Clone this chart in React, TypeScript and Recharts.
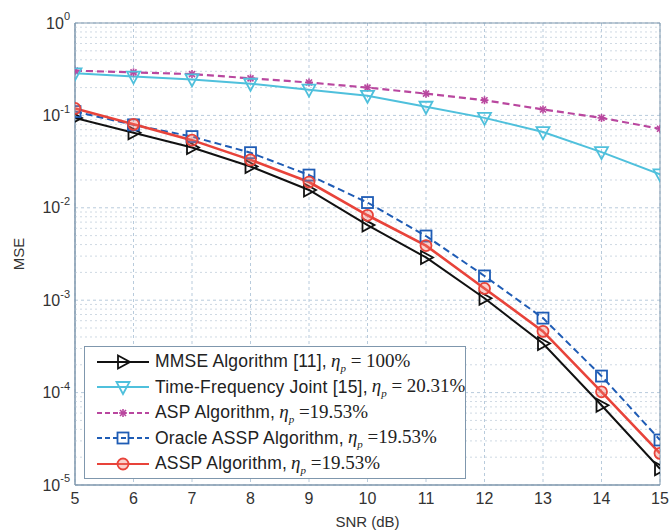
import React from "react";
import {
  CartesianGrid,
  Line,
  LineChart,
  ReferenceArea,
  ReferenceLine,
  XAxis,
  YAxis,
} from "recharts";

const snr = [5, 6, 7, 8, 9, 10, 11, 12, 13, 14, 15];
const mmse = [0.094, 0.065, 0.045, 0.028, 0.0156, 0.0065, 0.0029, 0.00105, 3.4e-4, 7.3e-5, 1.5e-5];
const tfJoint = [0.285, 0.263, 0.245, 0.22, 0.19, 0.163, 0.124, 0.094, 0.066, 0.04, 0.023];
const asp = [0.305, 0.292, 0.28, 0.252, 0.227, 0.2, 0.172, 0.146, 0.116, 0.094, 0.0716];
const oracle = [0.11, 0.079, 0.059, 0.0395, 0.0226, 0.0114, 0.00495, 0.00183, 6.4e-4, 1.51e-4, 3.07e-5];
const assp = [0.119, 0.08, 0.054, 0.033, 0.019, 0.0083, 0.0039, 0.00134, 4.6e-4, 1.02e-4, 2.2e-5];

const yTicks = [1e-5, 1e-4, 1e-3, 1e-2, 1e-1, 1];
const yMinor = yTicks.slice(0, -1).flatMap((d) => [2, 3, 4, 5, 6, 7, 8, 9].map((m) => d * m));

const C_MMSE = "#111111";
const C_TF = "#4fc0dc";
const C_ASP = "#b9479f";
const C_ORACLE = "#1f5cb5";
const C_ASSP = "#e8433a";
const AXIS = "#7f97ad";

type Kind = "tri-right" | "tri-down" | "star" | "square" | "circle";

function Marker({ kind, cx, cy, color }: { kind: Kind; cx: number; cy: number; color: string }) {
  const sw = 1.8;
  if (kind === "tri-right")
    return (
      <polygon
        points={`${cx - 5},${cy - 6.5} ${cx - 5},${cy + 6.5} ${cx + 7},${cy}`}
        fill="none"
        stroke={color}
        strokeWidth={sw}
      />
    );
  if (kind === "tri-down")
    return (
      <polygon
        points={`${cx - 6.5},${cy - 5} ${cx + 6.5},${cy - 5} ${cx},${cy + 7}`}
        fill="none"
        stroke={color}
        strokeWidth={sw}
      />
    );
  if (kind === "star")
    return (
      <g stroke={color} strokeWidth={1.6}>
        <line x1={cx - 4} y1={cy} x2={cx + 4} y2={cy} />
        <line x1={cx} y1={cy - 4} x2={cx} y2={cy + 4} />
        <line x1={cx - 3} y1={cy - 3} x2={cx + 3} y2={cy + 3} />
        <line x1={cx - 3} y1={cy + 3} x2={cx + 3} y2={cy - 3} />
      </g>
    );
  if (kind === "square")
    return <rect x={cx - 5.5} y={cy - 5.5} width={11} height={11} fill="none" stroke={color} strokeWidth={sw} />;
  return <circle cx={cx} cy={cy} r={5.5} fill="rgba(240,120,110,0.35)" stroke={color} strokeWidth={sw} />;
}

const dotFor = (kind: Kind, color: string) => (p: any) =>
  (
    <g key={`${kind}-${p.index}`}>
      <Marker kind={kind} cx={p.cx} cy={p.cy} color={color} />
    </g>
  );

function YTick(props: any) {
  const { x, y, payload } = props;
  const exp = Math.round(Math.log10(payload.value));
  return (
    <text x={x} y={y} textAnchor="end" fill="#333" fontFamily="Liberation Sans" fontSize={16}>
      <tspan dy="0.35em">10</tspan>
      <tspan dy="-0.75em" fontSize={11}>
        {exp}
      </tspan>
    </text>
  );
}

const legendItems: { label: string; eta: string; kind: Kind; color: string; dash?: string }[] = [
  { label: "MMSE Algorithm [11], ", eta: " 100%", kind: "tri-right", color: C_MMSE },
  { label: "Time-Frequency Joint [15],", eta: " 20.31%", kind: "tri-down", color: C_TF },
  { label: "ASP Algorithm, ", eta: "19.53%", kind: "star", color: C_ASP, dash: "5 3" },
  { label: "Oracle ASSP Algorithm, ", eta: "19.53%", kind: "square", color: C_ORACLE, dash: "5 3" },
  { label: "ASSP Algorithm, ", eta: "19.53%", kind: "circle", color: C_ASSP },
];

export default function App() {
  const data = snr.map((s, i) => ({
    snr: s,
    mmse: mmse[i],
    tf: tfJoint[i],
    asp: asp[i],
    oracle: oracle[i],
    assp: assp[i],
  }));

  return (
    <div style={{ position: "absolute", left: 0, top: 0, width: 672, height: 531, background: "#fff" }}>
      <LineChart width={672} height={531} data={data} margin={{ top: 23, right: 12, bottom: 0, left: 15 }}>
        <CartesianGrid stroke="#b8cbdc" strokeDasharray="3 3" />
        {yMinor.map((v) => (
          <ReferenceLine key={v} y={v} stroke="#cfd9e3" strokeDasharray="2 3" strokeWidth={1} />
        ))}
        <XAxis
          dataKey="snr"
          type="number"
          domain={[5, 15]}
          ticks={snr}
          allowDataOverflow
          stroke={AXIS}
          tickSize={0}
          tickMargin={8}
          height={46}
          tick={{ fill: "#333", fontSize: 16, fontFamily: "Liberation Sans" }}
          label={{
            value: "SNR (dB)",
            position: "insideBottom",
            offset: 4,
            style: { fill: "#333", fontSize: 15, fontFamily: "Liberation Sans" },
          }}
        />
        <YAxis
          type="number"
          scale="log"
          domain={[1e-5, 1]}
          ticks={yTicks}
          allowDataOverflow
          stroke={AXIS}
          width={60}
          tickSize={0}
          tickMargin={5}
          tick={<YTick />}
          label={{
            value: "MSE",
            angle: -90,
            position: "insideLeft",
            offset: 4,
            style: { textAnchor: "middle", fill: "#333", fontSize: 15, fontFamily: "Liberation Sans" },
          }}
        />
        <ReferenceArea x1={5} x2={15} y1={1e-5} y2={1} fill="none" stroke={AXIS} strokeWidth={1} />
        <Line
          dataKey="asp"
          stroke={C_ASP}
          strokeWidth={2.2}
          strokeDasharray="7 4"
          dot={dotFor("star", C_ASP)}
          isAnimationActive={false}
        />
        <Line dataKey="tf" stroke={C_TF} strokeWidth={2} dot={dotFor("tri-down", C_TF)} isAnimationActive={false} />
        <Line dataKey="mmse" stroke={C_MMSE} strokeWidth={2} dot={dotFor("tri-right", C_MMSE)} isAnimationActive={false} />
        <Line
          dataKey="oracle"
          stroke={C_ORACLE}
          strokeWidth={2}
          strokeDasharray="7 4"
          dot={dotFor("square", C_ORACLE)}
          isAnimationActive={false}
        />
        <Line dataKey="assp" stroke={C_ASSP} strokeWidth={2.6} dot={dotFor("circle", C_ASSP)} isAnimationActive={false} />
      </LineChart>

      <div
        style={{
          position: "absolute",
          left: 84,
          top: 346,
          width: 380,
          height: 129,
          border: `1px solid ${AXIS}`,
          background: "#fff",
          paddingTop: 2,
        }}
      >
        {legendItems.map((it) => (
          <div key={it.label} style={{ display: "flex", alignItems: "center", height: 25.5, whiteSpace: "nowrap" }}>
            <svg width={60} height={20} style={{ marginLeft: 10, flex: "none" }}>
              <line x1={2} y1={10} x2={54} y2={10} stroke={it.color} strokeWidth={2} strokeDasharray={it.dash} />
              <Marker kind={it.kind} cx={28} cy={10} color={it.color} />
            </svg>
            <span style={{ fontFamily: "Liberation Sans", fontSize: 17.5, letterSpacing: 0.2, color: "#222" }}>
              {it.label}
            </span>
            <span style={{ fontFamily: "Liberation Serif", fontSize: 19, color: "#222", marginLeft: 4 }}>
              <i>η</i>
              <sub style={{ fontSize: 11, fontStyle: "italic" }}>p</sub>
              {" ="}
              {it.eta}
            </span>
          </div>
        ))}
      </div>
    </div>
  );
}
